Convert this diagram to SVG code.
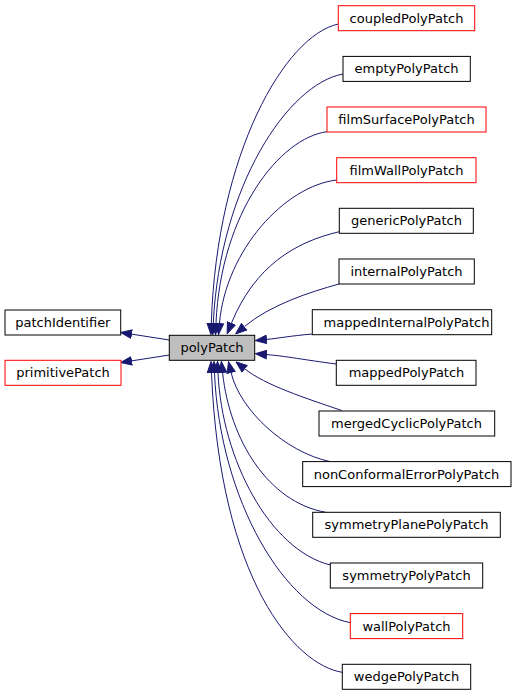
<svg xmlns="http://www.w3.org/2000/svg" width="516" height="696" viewBox="0 0 516 696">
<defs>
<style>
.n rect{fill:#fff;stroke:#000;stroke-width:1}
.r rect{stroke:#ff0000}
.g rect{fill:#bfbfbf}
.n text{font-family:"DejaVu Sans",sans-serif;font-size:13px;text-anchor:middle;fill:#000}
.e path{fill:none;stroke:#191970;stroke-width:1;marker-end:url(#ah)}
</style>
<marker id="ah" viewBox="0 0 12 10" markerWidth="12" markerHeight="10" refX="0" refY="5" orient="auto" markerUnits="userSpaceOnUse">
<path d="M0.5,0.8 L11.5,5 L0.5,9.2 z" fill="#191970" stroke="#191970" stroke-width="1"/>
</marker>
</defs>
<rect width="516" height="696" fill="#fff"/>
<g id="edges" class="e">
<path d="M169.3,340 L132,334.2"/>
<path d="M169.3,355 L132,360.8"/>
<path d="M338.3,24 C285,35.6 217,153 211.3,323"/>
<path d="M343,74 C288,84 220,186 213.3,323"/>
<path d="M327,131.7 C280,138 221,212 216,323"/>
<path d="M336.7,180 C285,186 226,250 219.5,323"/>
<path d="M339.3,231.7 C295,242 255,266 231.5,323"/>
<path d="M339,284 C310,292 270,305 244.5,326.5"/>
<path d="M312.3,334 C290,336 280,338 267,339.4"/>
<path d="M336.3,364 C305,360 285,356 267,354.6"/>
<path d="M341.7,410.5 C305,398 265,385 245,369"/>
<path d="M330,461.6 C285,452 240,410 231.2,373"/>
<path d="M325.7,512.3 C268,502 230,440 222.6,373"/>
<path d="M330.3,565 C270,550 222,460 218,373"/>
<path d="M350.3,622.7 C285,610 220,500 214.5,373"/>
<path d="M342.3,672.3 C295,665 220,580 211.5,373"/>
</g>
<g id="polyPatch" class="n g"><rect x="169.3" y="335.3" width="85.4" height="25"/><text x="212" y="352.3">polyPatch</text></g>
<g id="patchIdentifier" class="n"><rect x="5" y="310" width="115.7" height="25"/><text x="62.85" y="327">patchIdentifier</text></g>
<g id="primitivePatch" class="n r"><rect x="5" y="360.3" width="116" height="25"/><text x="63" y="377.3">primitivePatch</text></g>
<g id="coupledPolyPatch" class="n r"><rect x="338.3" y="5.7" width="136.4" height="25"/><text x="406.5" y="22.7">coupledPolyPatch</text></g>
<g id="emptyPolyPatch" class="n"><rect x="343" y="56.4" width="127.3" height="25"/><text x="406.5" y="73.4">emptyPolyPatch</text></g>
<g id="filmSurfacePolyPatch" class="n r"><rect x="327" y="107" width="159" height="25"/><text x="406.5" y="124">filmSurfacePolyPatch</text></g>
<g id="filmWallPolyPatch" class="n r"><rect x="336.7" y="157.7" width="139.3" height="25"/><text x="406.5" y="174.7">filmWallPolyPatch</text></g>
<g id="genericPolyPatch" class="n"><rect x="339.3" y="208.3" width="134" height="25"/><text x="406.5" y="225.3">genericPolyPatch</text></g>
<g id="internalPolyPatch" class="n"><rect x="339" y="259" width="135.3" height="25"/><text x="406.5" y="276">internalPolyPatch</text></g>
<g id="mappedInternalPolyPatch" class="n"><rect x="312.3" y="309.7" width="179.4" height="25"/><text x="406.5" y="326.7">mappedInternalPolyPatch</text></g>
<g id="mappedPolyPatch" class="n"><rect x="336.3" y="360.3" width="139.7" height="25"/><text x="406.5" y="377.3">mappedPolyPatch</text></g>
<g id="mergedCyclicPolyPatch" class="n"><rect x="319" y="411" width="175.7" height="25"/><text x="406.5" y="428">mergedCyclicPolyPatch</text></g>
<g id="nonConformalErrorPolyPatch" class="n"><rect x="302.7" y="461.6" width="208.3" height="25"/><text x="406.5" y="478.6">nonConformalErrorPolyPatch</text></g>
<g id="symmetryPlanePolyPatch" class="n"><rect x="312.7" y="512.3" width="187.6" height="25"/><text x="406.5" y="529.3">symmetryPlanePolyPatch</text></g>
<g id="symmetryPolyPatch" class="n"><rect x="330.3" y="563" width="152.4" height="25"/><text x="406.5" y="580">symmetryPolyPatch</text></g>
<g id="wallPolyPatch" class="n r"><rect x="350.3" y="613.6" width="112.4" height="25"/><text x="406.5" y="630.6">wallPolyPatch</text></g>
<g id="wedgePolyPatch" class="n"><rect x="342.3" y="664.3" width="128.4" height="25"/><text x="406.5" y="681.3">wedgePolyPatch</text></g>
</svg>
